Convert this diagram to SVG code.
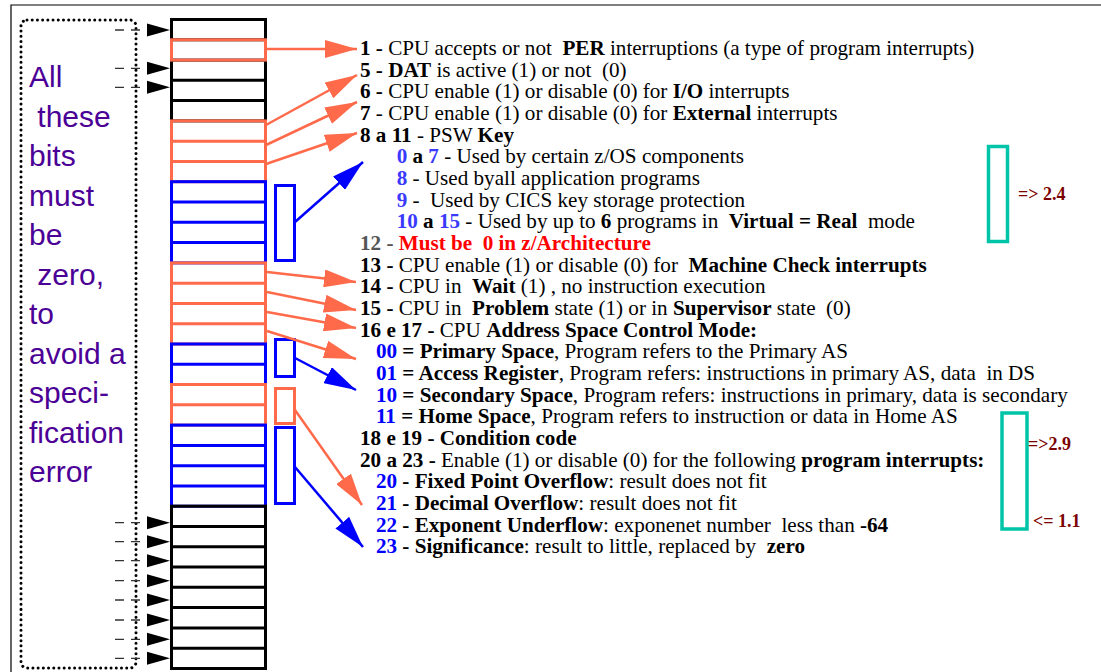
<svg xmlns="http://www.w3.org/2000/svg" width="1101" height="672" viewBox="0 0 1101 672">
<defs>
<style>
.t{font-family:"Liberation Serif","Times New Roman",serif;font-size:20px;fill:#000;white-space:pre}
.b{font-weight:bold}
.bl{font-weight:bold;fill:#0000ff}
.bk{font-weight:bold;fill:#3a3aff}
.rd{font-weight:bold;fill:#ff0000}
.note{font-family:"Liberation Sans",Arial,sans-serif;font-size:30px;fill:#4B0096;white-space:pre}
.lbl{font-family:"Liberation Serif","Times New Roman",serif;font-size:18px;font-weight:bold;fill:#7B0000;white-space:pre}
.rk{fill:none;stroke:#000;stroke-width:3}
.rr{fill:none;stroke:#FF6A4B;stroke-width:3}
.rb{fill:none;stroke:#0000FF;stroke-width:3}
.teal{fill:none;stroke:#00C4A8;stroke-width:3.5}
.ar{stroke:#FF6A4B;stroke-width:2.5;fill:none;marker-end:url(#hr)}
.ab{stroke:#0000FF;stroke-width:2.5;fill:none;marker-end:url(#hb)}
.dl{stroke:#333;stroke-width:1.3;stroke-dasharray:9 7}
</style>
<marker id="hr" viewBox="0 0 32 18" refX="32" refY="9" markerWidth="32" markerHeight="18" markerUnits="userSpaceOnUse" orient="auto"><path d="M0,0 L32,9 L0,18 z" fill="#FF6A4B"/></marker>
<marker id="hb" viewBox="0 0 32 18" refX="32" refY="9" markerWidth="32" markerHeight="18" markerUnits="userSpaceOnUse" orient="auto"><path d="M0,0 L32,9 L0,18 z" fill="#0000FF"/></marker>
</defs>
<rect width="1101" height="672" fill="#fff"/>
<path d="M11,672 L11,5 L1101,5" fill="none" stroke="#000" stroke-width="1.2"/>

<g id="left-note">
<rect x="21" y="20" width="115" height="648" rx="6" fill="none" stroke="#000" stroke-width="3" stroke-dasharray="0.01 5.2" stroke-linecap="round"/>
<text class="note" x="29" y="87">All</text>
<text class="note" x="29" y="126.5"> these</text>
<text class="note" x="29" y="166">bits</text>
<text class="note" x="29" y="205.5">must</text>
<text class="note" x="29" y="245">be</text>
<text class="note" x="29" y="284.5"> zero,</text>
<text class="note" x="29" y="324">to</text>
<text class="note" x="29" y="363.5">avoid a</text>
<text class="note" x="29" y="403">speci-</text>
<text class="note" x="29" y="442.5">fication</text>
<text class="note" x="29" y="482">error</text>
</g>

<g id="zero-bit-pointers">
<g class="dl">
<line x1="115" y1="30" x2="148" y2="30"/>
<line x1="115" y1="68.3" x2="148" y2="68.3"/>
<line x1="115" y1="87.3" x2="148" y2="87.3"/>
<line x1="115" y1="522.7" x2="148" y2="522.7"/>
<line x1="115" y1="541.7" x2="148" y2="541.7"/>
<line x1="115" y1="560.7" x2="148" y2="560.7"/>
<line x1="115" y1="580.7" x2="148" y2="580.7"/>
<line x1="115" y1="600" x2="148" y2="600"/>
<line x1="115" y1="620" x2="148" y2="620"/>
<line x1="115" y1="639.3" x2="148" y2="639.3"/>
<line x1="115" y1="658.3" x2="148" y2="658.3"/>
</g>
<g fill="#000">
<polygon points="147,23.5 170,30 147,36.5"/>
<polygon points="147,61.8 170,68.3 147,74.8"/>
<polygon points="147,80.8 170,87.3 147,93.8"/>
<polygon points="147,516.2 170,522.7 147,529.2"/>
<polygon points="147,535.2 170,541.7 147,548.2"/>
<polygon points="147,554.2 170,560.7 147,567.2"/>
<polygon points="147,574.2 170,580.7 147,587.2"/>
<polygon points="147,593.5 170,600 147,606.5"/>
<polygon points="147,613.5 170,620 147,626.5"/>
<polygon points="147,632.8 170,639.3 147,645.8"/>
<polygon points="147,651.8 170,658.3 147,664.8"/>
</g>
</g>

<g id="psw-bits">
<g id="bits-black-top" class="rk">
<rect x="171.5" y="19.5" width="94" height="20.3"/>
<rect x="171.5" y="60.1" width="94" height="60.8"/>
<line x1="171.5" y1="80.3" x2="265.5" y2="80.3"/>
<line x1="171.5" y1="100.6" x2="265.5" y2="100.6"/>
</g>
<g id="bit-1" class="rr"><rect x="171.5" y="39.8" width="94" height="20.3"/></g>
<g id="bits-5-7" class="rr">
<rect x="171.5" y="120.9" width="94" height="60.8"/>
<line x1="171.5" y1="141.2" x2="265.5" y2="141.2"/>
<line x1="171.5" y1="161.5" x2="265.5" y2="161.5"/>
</g>
<g id="bits-8-11" class="rb">
<rect x="171.5" y="181.7" width="94" height="81.2"/>
<line x1="171.5" y1="202" x2="265.5" y2="202"/>
<line x1="171.5" y1="222.3" x2="265.5" y2="222.3"/>
<line x1="171.5" y1="242.6" x2="265.5" y2="242.6"/>
</g>
<g id="bits-12-15" class="rr">
<rect x="171.5" y="262.9" width="94" height="81.1"/>
<line x1="171.5" y1="283.2" x2="265.5" y2="283.2"/>
<line x1="171.5" y1="303.4" x2="265.5" y2="303.4"/>
<line x1="171.5" y1="323.7" x2="265.5" y2="323.7"/>
</g>
<g id="bits-16-17" class="rb">
<rect x="171.5" y="344" width="94" height="40.5"/>
<line x1="171.5" y1="364.3" x2="265.5" y2="364.3"/>
</g>
<g id="bits-18-19" class="rr">
<rect x="171.5" y="384.5" width="94" height="40.6"/>
<line x1="171.5" y1="404.8" x2="265.5" y2="404.8"/>
</g>
<g id="bits-20-23" class="rb">
<rect x="171.5" y="425.1" width="94" height="81.1"/>
<line x1="171.5" y1="445.4" x2="265.5" y2="445.4"/>
<line x1="171.5" y1="465.7" x2="265.5" y2="465.7"/>
<line x1="171.5" y1="485.9" x2="265.5" y2="485.9"/>
</g>
<g id="bits-24-31" class="rk">
<rect x="171.5" y="506.2" width="94" height="162.3"/>
<line x1="171.5" y1="526.5" x2="265.5" y2="526.5"/>
<line x1="171.5" y1="546.8" x2="265.5" y2="546.8"/>
<line x1="171.5" y1="567.1" x2="265.5" y2="567.1"/>
<line x1="171.5" y1="587.3" x2="265.5" y2="587.3"/>
<line x1="171.5" y1="607.6" x2="265.5" y2="607.6"/>
<line x1="171.5" y1="627.9" x2="265.5" y2="627.9"/>
<line x1="171.5" y1="648.2" x2="265.5" y2="648.2"/>
</g>
</g>

<g id="brackets">
<rect id="br-key" class="rb" x="275.5" y="185.5" width="19" height="75"/>
<rect id="br-asc" class="rb" x="275.5" y="339.5" width="19" height="37"/>
<rect id="br-cc" class="rr" x="275.5" y="388.5" width="19" height="35"/>
<rect id="br-pgm" class="rb" x="275.5" y="427.5" width="19" height="76"/>
</g>

<g id="connectors">
<line class="ar" x1="266" y1="49" x2="357" y2="49"/>
<line class="ar" x1="266" y1="125" x2="357" y2="75"/>
<line class="ar" x1="266" y1="145" x2="357" y2="102"/>
<line class="ar" x1="266" y1="164" x2="357" y2="133"/>
<line class="ab" x1="295" y1="222" x2="363" y2="162"/>
<line class="ar" x1="267" y1="272" x2="356" y2="282"/>
<line class="ar" x1="267" y1="292" x2="356" y2="310"/>
<line class="ar" x1="267" y1="312" x2="356" y2="328"/>
<line class="ar" x1="267" y1="331" x2="356" y2="359"/>
<line class="ab" x1="295" y1="358" x2="356" y2="390"/>
<line class="ar" x1="295" y1="410" x2="362" y2="505"/>
<line class="ab" x1="295" y1="467" x2="363" y2="547"/>
</g>

<g id="descriptions" transform="translate(360,0) scale(1.057,1) translate(-360,0)">
<text class="t" x="360" y="55"><tspan class="b">1 -</tspan> CPU accepts or not  <tspan class="b">PER</tspan> interruptions (a type of program interrupts)</text>
<text class="t" x="360" y="76.7"><tspan class="b">5 - DAT</tspan> is active (1) or not  (0)</text>
<text class="t" x="360" y="98.3"><tspan class="b">6 -</tspan> CPU enable (1) or disable (0) for <tspan class="b">I/O</tspan> interrupts</text>
<text class="t" x="360" y="120"><tspan class="b">7</tspan> - CPU enable (1) or disable (0) for <tspan class="b">External</tspan> interrupts</text>
<text class="t" x="360" y="141.7"><tspan class="b">8 a 11</tspan> - PSW <tspan class="b">Key</tspan></text>
<text class="t" x="394.7" y="163.4"><tspan class="bk">0</tspan><tspan class="b"> a </tspan><tspan class="bk">7</tspan> - Used by certain z/OS components</text>
<text class="t" x="394.7" y="185"><tspan class="bk">8</tspan> - Used byall application programs</text>
<text class="t" x="394.7" y="206.7"><tspan class="bk">9</tspan> -  Used by CICS key storage protection</text>
<text class="t" x="394.7" y="228.4"><tspan class="bk">10</tspan><tspan class="b"> a </tspan><tspan class="bk">15</tspan> - Used by up to <tspan class="b">6</tspan> programs in  <tspan class="b">Virtual = Real</tspan>  mode</text>
<text class="t" x="360" y="250"><tspan class="b" fill="#555">12 -</tspan> <tspan class="rd">Must be  0 in z/Architecture</tspan></text>
<text class="t" x="360" y="271.7"><tspan class="b">13 -</tspan> CPU enable (1) or disable (0) for  <tspan class="b">Machine Check interrupts</tspan></text>
<text class="t" x="360" y="293.4"><tspan class="b">14 -</tspan> CPU in  <tspan class="b">Wait</tspan> (1) , no instruction execution</text>
<text class="t" x="360" y="315"><tspan class="b">15 -</tspan> CPU in  <tspan class="b">Problem</tspan> state (1) or in <tspan class="b">Supervisor</tspan> state  (0)</text>
<text class="t" x="360" y="336.7"><tspan class="b">16 e 17 -</tspan> CPU <tspan class="b">Address Space Control Mode:</tspan></text>
<text class="t" x="375.1" y="358.4"><tspan class="bl">00</tspan><tspan class="b"> = Primary Space</tspan>, Program refers to the Primary AS</text>
<text class="t" x="375.1" y="380"><tspan class="bl">01</tspan><tspan class="b"> = Access Register</tspan>, Program refers: instructions in primary AS, data  in DS</text>
<text class="t" x="375.1" y="401.7"><tspan class="bl">10</tspan><tspan class="b"> = Secondary Space</tspan>, Program refers: instructions in primary, data is secondary</text>
<text class="t" x="375.1" y="423.4"><tspan class="bl">11</tspan><tspan class="b"> = Home Space</tspan>, Program refers to instruction or data in Home AS</text>
<text class="t" x="360" y="445"><tspan class="b">18 e 19 - Condition code</tspan></text>
<text class="t" x="360" y="466.7"><tspan class="b">20 a 23 -</tspan> Enable (1) or disable (0) for the following <tspan class="b">program interrupts:</tspan></text>
<text class="t" x="375.1" y="488.4"><tspan class="bl">20</tspan><tspan class="b"> - Fixed Point Overflow</tspan>: result does not fit</text>
<text class="t" x="375.1" y="510"><tspan class="bl">21</tspan><tspan class="b"> - Decimal Overflow</tspan>: result does not fit</text>
<text class="t" x="375.1" y="531.7"><tspan class="bl">22</tspan><tspan class="b"> - Exponent Underflow</tspan>: exponenet number  less than <tspan class="b">-64</tspan></text>
<text class="t" x="375.1" y="553.4"><tspan class="bl">23</tspan><tspan class="b"> - Significance</tspan>: result to little, replaced by  <tspan class="b">zero</tspan></text>
</g>

<g id="ref-key">
<rect class="teal" x="988.5" y="146.5" width="19" height="95"/>
<text class="lbl" x="1018" y="200">=&gt; 2.4</text>
</g>
<g id="ref-pgm">
<rect class="teal" x="1002" y="413" width="25" height="116"/>
<text class="lbl" x="1028" y="450">=&gt;2.9</text>
<text class="lbl" x="1033" y="527">&lt;= 1.1</text>
</g>
</svg>
